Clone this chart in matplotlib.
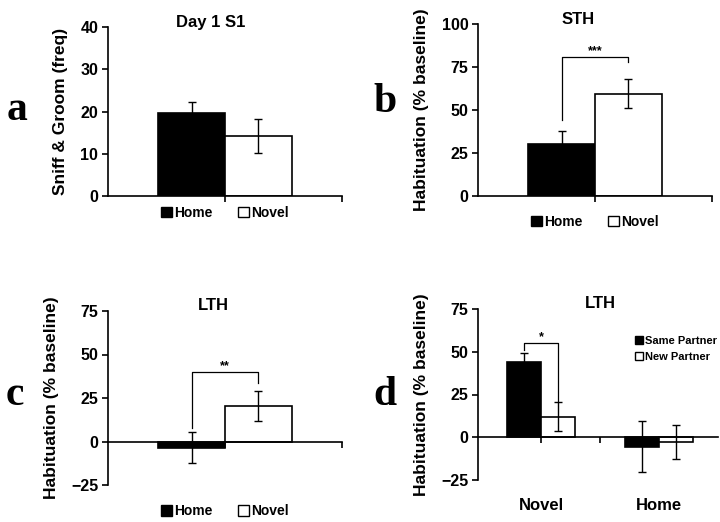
import numpy as np
import matplotlib.pyplot as plt
from matplotlib.patches import Patch

plt.rcParams['font.family'] = 'Liberation Sans'
plt.rcParams['font.weight'] = 'bold'

# panel a: Day 1 S1
a_groups = ['Home', 'Novel']
a_vals = [19.7, 14.2]
a_err = [2.5, 4.0]

# panel b: STH
b_vals = [30.0, 59.5]
b_err = [8.0, 8.5]

# panel c: LTH
c_vals = [-3.5, 20.5]
c_err = [8.9, 8.7]

# panel d: LTH, by partner
d_cats = ['Novel', 'Home']
d_same = [44.0, -5.5]
d_same_err = [5.5, 15.0]
d_new = [12.0, -3.0]
d_new_err = [8.5, 10.0]

W, H = 720, 522
fig = plt.figure(figsize=(W / 100, H / 100), dpi=100)


def px_axes(x0, y0, x1, y1):
    # pixel box (top-left origin) -> figure axes
    return fig.add_axes([x0 / W, 1 - y1 / H, (x1 - x0) / W, (y1 - y0) / H])


def style(ax, ylim, yticks, ylabel, title, tx, ty, letter, lx, ly):
    ax.set_ylim(*ylim)
    ax.set_yticks(yticks)
    for s in ['top', 'right']:
        ax.spines[s].set_visible(False)
    ax.spines['left'].set_linewidth(1.2)
    ax.spines['bottom'].set_linewidth(1.2)
    ax.spines['bottom'].set_position(('data', 0))
    ax.tick_params(axis='y', direction='out', length=4, width=1.2, labelsize=11.5, pad=3)
    ax.tick_params(axis='x', direction='out', length=4, width=1.2, labelbottom=False)
    for t in ax.get_yticklabels():
        t.set_fontweight('bold')
    ax.set_ylabel(ylabel, fontsize=12.5, fontweight='bold', labelpad=9)
    fig.text(tx / W, 1 - ty / H, title, fontsize=12, fontweight='bold', ha='center', va='center')
    fig.text(lx / W, 1 - ly / H, letter, family='Liberation Serif', fontweight='bold',
             fontsize=30, ha='center', va='center')


def two_bars(ax, vals, err):
    left = [0.43, 1.0]
    for i, (v, e) in enumerate(zip(vals, err)):
        fc = 'black' if i == 0 else 'white'
        ax.bar(left[i], v, width=0.57, align='edge', color=fc, edgecolor='black', linewidth=1.2)
        ax.errorbar(left[i] + 0.285, v, yerr=e, color='black', capsize=3, lw=1, capthick=1)
    ax.set_xlim(0, 2)
    ax.set_xticks([1, 2])


def legend_below(ax, y, labels=('Home', 'Novel')):
    h = [Patch(facecolor='black', edgecolor='black'),
         Patch(facecolor='white', edgecolor='black')]
    ax.legend(h, labels, ncol=2, frameon=False, loc='center', bbox_to_anchor=(0.5, y),
              handlelength=0.8, handleheight=0.8, handletextpad=0.15, columnspacing=1.8,
              prop={'weight': 'bold', 'size': 10})


def bracket(ax, x0, x1, y, y0, y1, stars):
    ax.plot([x0, x0, x1, x1], [y0, y, y, y1], color='black', lw=0.9)
    ax.text((x0 + x1) / 2, y, stars, ha='center', va='bottom', fontsize=9, fontweight='bold')


# a
ax = px_axes(108, 27, 342, 196)
two_bars(ax, a_vals, a_err)
style(ax, (0, 40), [0, 10, 20, 30, 40], 'Sniff & Groom (freq)', 'Day 1 S1', 211, 23, 'a', 17, 110)
legend_below(ax, -0.1)

# b
ax = px_axes(478, 24, 712, 196)
two_bars(ax, b_vals, b_err)
style(ax, (0, 100), [0, 25, 50, 75, 100], 'Habituation (% baseline)', 'STH', 578, 20, 'b', 385, 102)
bracket(ax, 0.715, 1.285, 81, 44, 78, '***')
legend_below(ax, -0.15)

# c
ax = px_axes(108, 311, 342, 485)
two_bars(ax, c_vals, c_err)
style(ax, (-25, 75), [-25, 0, 25, 50, 75], 'Habituation (% baseline)', 'LTH', 213, 306, 'c', 15, 395)
bracket(ax, 0.715, 1.285, 40, 8, 33.5, '**')
legend_below(ax, -0.15)

# d
ax = px_axes(478, 309, 718, 480)
xs = np.arange(len(d_cats)) * 0.985
for x, v, e in zip(xs, d_same, d_same_err):
    ax.bar(x + 0.24, v, width=0.285, align='edge', color='black', edgecolor='black', linewidth=1.2)
    ax.errorbar(x + 0.382, v, yerr=e, color='black', capsize=3, lw=1, capthick=1)
for x, v, e in zip(xs, d_new, d_new_err):
    ax.bar(x + 0.525, v, width=0.285, align='edge', color='white', edgecolor='black', linewidth=1.2)
    ax.errorbar(x + 0.667, v, yerr=e, color='black', capsize=3, lw=1, capthick=1)
ax.set_xlim(0, 2)
style(ax, (-25, 75), [-25, 0, 25, 50, 75], 'Habituation (% baseline)', 'LTH', 600, 304, 'd', 385, 395)
ax.set_xticks([0.525, 1.02])
for x, name in zip(xs, d_cats):
    ax.text(x + 0.525, -0.15, name, transform=ax.get_xaxis_transform(), ha='center',
            va='center', fontsize=12, fontweight='bold')
bracket(ax, 0.38, 0.67, 55, 51, 21, '*')
h = [Patch(facecolor='black', edgecolor='black'), Patch(facecolor='white', edgecolor='black')]
ax.legend(h, ['Same Partner', 'New Partner'], frameon=False, loc='upper left',
          bbox_to_anchor=(0.655, 0.845), handlelength=0.7, handleheight=0.7, handletextpad=0.2,
          labelspacing=0.55, borderpad=0, borderaxespad=0, prop={'weight': 'bold', 'size': 8})

fig.savefig('out.png', dpi=100, facecolor='white')
